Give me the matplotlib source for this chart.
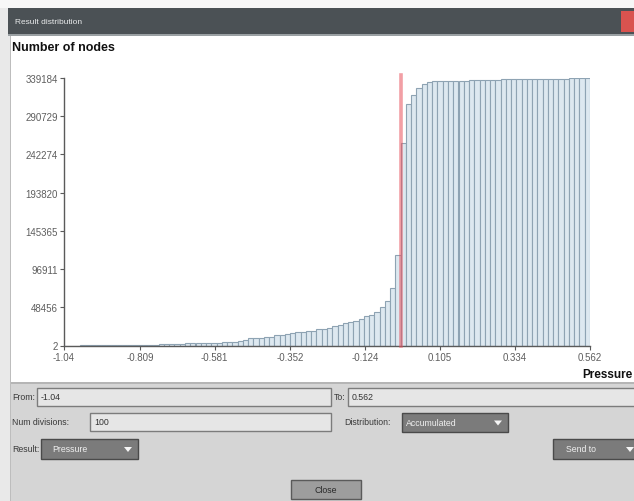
import matplotlib
matplotlib.use("Agg")
import matplotlib.pyplot as plt
from matplotlib.patches import Rectangle, Polygon

# Accumulated node counts per pressure division (100 divisions from -1.04 to 0.562)
p_from = -1.04
p_to = 0.562
num_divisions = 100
node_counts = [
    2, 2, 2, 3, 3, 5, 8, 12, 20, 35, 60, 100, 160, 250, 380, 550, 800, 1100,
    1500, 1800, 2100, 2300, 2500, 2700, 2900, 3100, 3300, 3500, 3600, 3800, 4000,
    4200, 4700, 6300, 7600, 8900, 9500, 10100, 10800, 11400, 12700, 13900, 15200,
    15800, 16500, 17700, 18400, 19000, 20300, 21500, 22800, 24100, 25400, 27900,
    29800, 31700, 34200, 36800, 39300, 43100, 48200, 55800, 73500, 115000,
    257000, 306000, 317000, 326000, 332000,
    334500, 334800, 335000, 335200, 335400, 335600, 335800, 336000, 336200,
    336400, 336600, 336800, 337000, 337200, 337300, 337400, 337500, 337600,
    337700, 337800, 337900, 338000, 338100, 338200, 338300, 338400, 338500,
    338600, 338800, 339000, 339184,
]
marker_value = -0.0147

x_ticks = [-1.04, -0.809, -0.581, -0.352, -0.124, 0.105, 0.334, 0.562]
x_tick_labels = ["-1.04", "-0.809", "-0.581", "-0.352", "-0.124", "0.105", "0.334", "0.562"]
y_ticks = [2, 48456, 96911, 145365, 193820, 242274, 290729, 339184]
y_tick_labels = ["2", "48456", "96911", "145365", "193820", "242274", "290729", "339184"]

W, H = 634, 502
fig = plt.figure(figsize=(W / 100, H / 100), dpi=100)
fig.patch.set_facecolor("white")

# ---- dialog chrome, drawn in pixel coordinates ----
bg = fig.add_axes([0, 0, 1, 1], zorder=0)
bg.set_xlim(0, W)
bg.set_ylim(H, 0)
bg.axis("off")

def rect(x0, y0, x1, y1, fc, ec="none", lw=0.0, z=1):
    bg.add_patch(Rectangle((x0, y0), x1 - x0, y1 - y0, facecolor=fc,
                           edgecolor=ec, linewidth=lw, zorder=z))

GUI = ["Liberation Sans", "DejaVu Sans"]

rect(0, 0, W, H, "#f7f7f7", z=0)
rect(0, 9, 10, H, "#e9e9e9", z=0.5)
# title bar
rect(8, 9, W, 35, "#4b5155")
rect(8, 35, W, 37, "#9aa0a3")
bg.text(15, 22.5, "Result distribution", color="#e8eaeb", fontsize=6,
        family=GUI, va="center", ha="left")
rect(621, 12, 640, 33, "#d9534f")
# white plot panel
rect(10, 37, W, 383, "white")
rect(10, 37, 11, 383, "#bdbdbd")
# control panel
rect(10, 383, W, H, "#d5d5d5")
rect(10, 383, W, 385, "#b5b5b5")
rect(10, 383, 11, H, "#bdbdbd")

bg.text(12, 48, "Number of nodes", fontsize=9, fontweight="bold",
        family=GUI, color="#111111", va="center", ha="left")
bg.text(582, 375, "Pressure", fontsize=8.5, fontweight="bold",
        family=GUI, color="#111111", va="center", ha="left")

def field(x0, y0, x1, y1, text):
    rect(x0, y0, x1, y1, "#e6e6e6", ec="#7c7c7c", lw=1.0, z=2)
    bg.text(x0 + 4, (y0 + y1) / 2, text, fontsize=6.3, family=GUI,
            color="#333333", va="center", ha="left", zorder=3)

def label(x, y, text):
    bg.text(x, y, text, fontsize=6.3, family=GUI, color="#3a3a3a",
            va="center", ha="left", zorder=3)

def dropdown(x0, y0, x1, y1, text, text_x, arrow_x):
    rect(x0, y0, x1, y1, "#7b7b7b", ec="#4a4a4a", lw=1.0, z=2)
    bg.text(text_x, (y0 + y1) / 2, text, fontsize=6.3, family=GUI,
            color="#f0f0f0", va="center", ha="left", zorder=3)
    yc = (y0 + y1) / 2
    bg.add_patch(Polygon([[arrow_x - 4, yc - 2], [arrow_x + 4, yc - 2],
                          [arrow_x, yc + 3]], closed=True,
                         facecolor="#f5f5f5", edgecolor="none", zorder=3))

label(12, 398, "From:")
field(37, 389, 331, 407, "-1.04")
label(334, 398, "To:")
field(348, 389, 640, 407, "0.562")

label(12, 423, "Num divisions:")
field(90, 414, 331, 432, "100")
label(344, 423, "Distribution:")
dropdown(402, 414, 508, 433, "Accumulated", 406, 498)

label(12, 450, "Result:")
dropdown(41, 440, 138, 460, "Pressure", 52, 128)
dropdown(553, 440, 640, 460, "Send to", 566, 630)

rect(291, 481, 361, 500, "#9d9d9d", ec="#5a5a5a", lw=1.0, z=2)
bg.text(326, 490.5, "Close", fontsize=6.3, family=GUI, color="#2a2a2a",
        va="center", ha="center", zorder=3)

# ---- histogram axes ----
ax_l, ax_r, ax_t, ax_b = 64, 590, 79, 346.5
ax = fig.add_axes([ax_l / W, (H - ax_b) / H, (ax_r - ax_l) / W, (ax_b - ax_t) / H],
                  zorder=5)
ax.patch.set_alpha(0)

width = (p_to - p_from) / num_divisions
lefts = [p_from + i * width for i in range(num_divisions)]
ax.bar(lefts, node_counts, width=width, align="edge", color="#dde8f0",
       edgecolor="#8ea3b3", linewidth=0.8, zorder=2)

ax.axvline(marker_value, ymin=0, ymax=1.012, color="#e8505c", alpha=0.55,
           linewidth=2.6, zorder=3, clip_on=False)

ax.set_xlim(p_from, p_to)
ax.set_ylim(y_ticks[0], y_ticks[-1])
ax.set_xticks(x_ticks)
ax.set_xticklabels(x_tick_labels)
ax.set_yticks(y_ticks)
ax.set_yticklabels(y_tick_labels)

for side in ("top", "right"):
    ax.spines[side].set_visible(False)
for side in ("left", "bottom"):
    ax.spines[side].set_color("#5a5a5a")
    ax.spines[side].set_linewidth(1.0)

ax.tick_params(axis="both", direction="out", length=3, width=0.8,
               color="#5a5a5a", labelcolor="#5e5e5e", labelsize=7, pad=1.5)
for lbl in ax.get_xticklabels() + ax.get_yticklabels():
    lbl.set_family(GUI)

fig.savefig("out.png", dpi=100)
